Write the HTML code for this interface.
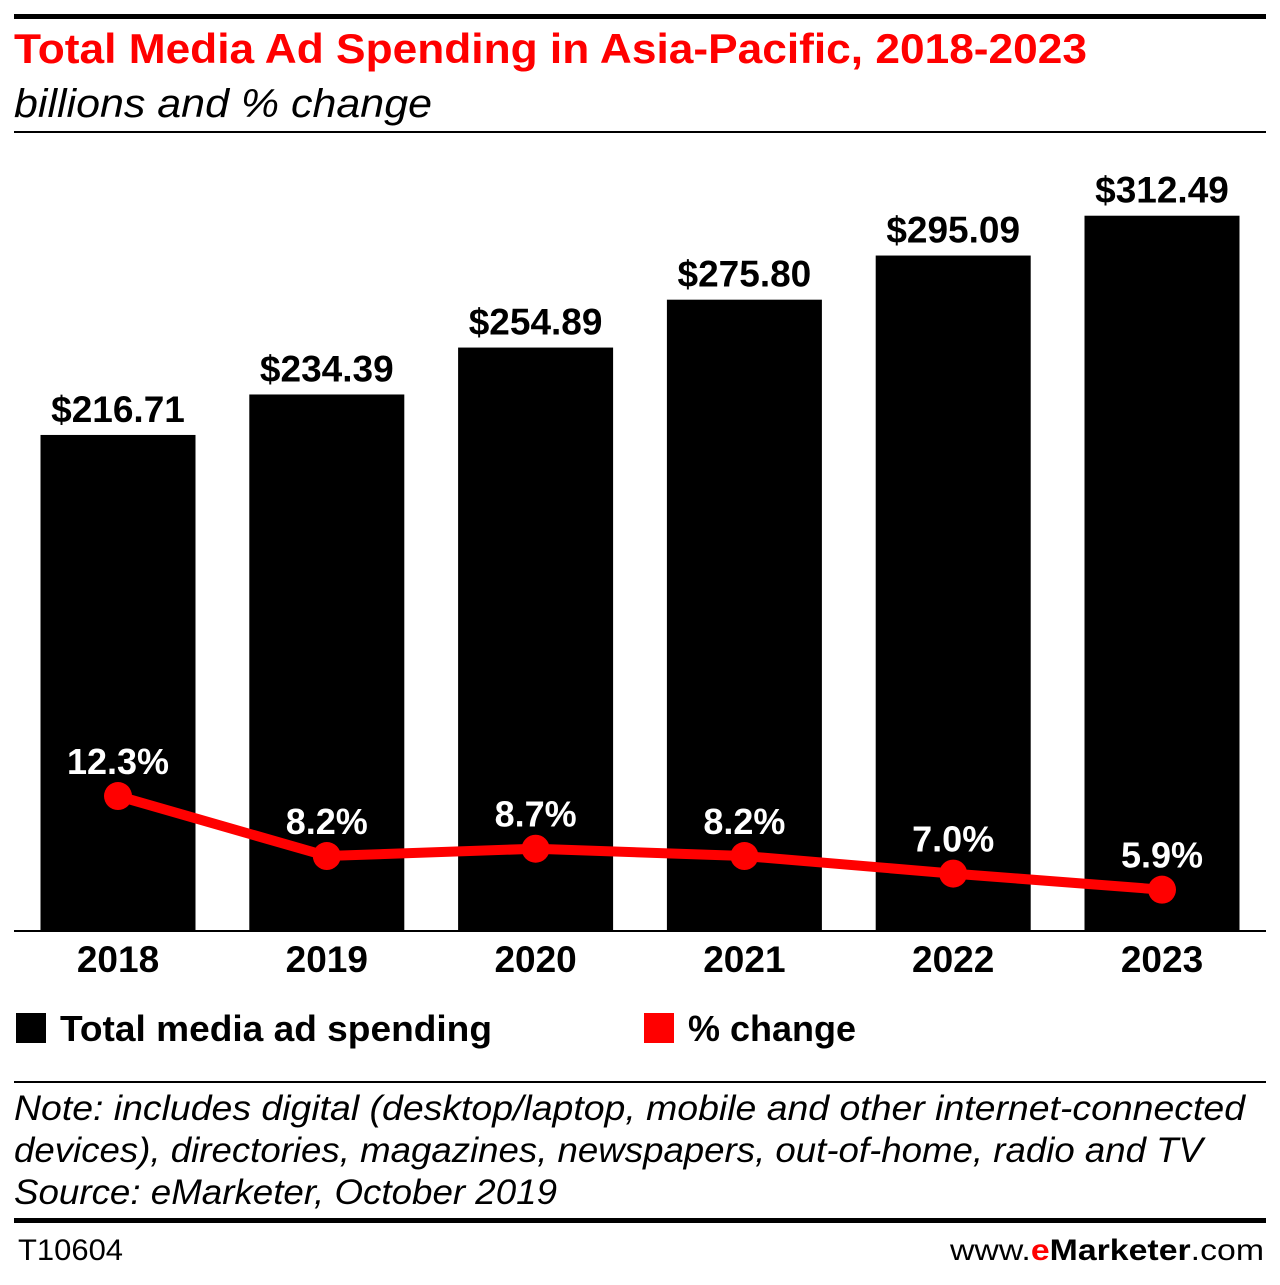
<!DOCTYPE html>
<html><head><meta charset="utf-8"><style>
html,body{margin:0;padding:0;background:#fff;width:1280px;height:1285px;overflow:hidden;font-family:"Liberation Sans","DejaVu Sans",sans-serif}
</style></head><body>
<svg width="1280" height="1285" xmlns="http://www.w3.org/2000/svg">
<rect x="14" y="14" width="1252" height="5" fill="#000"/>
<text x="14" y="63" font-size="42" font-weight="bold" fill="#f00" textLength="1073" lengthAdjust="spacingAndGlyphs">Total Media Ad Spending in Asia-Pacific, 2018-2023</text>
<text x="14" y="117" font-size="40" font-style="italic" fill="#000" textLength="418" lengthAdjust="spacingAndGlyphs">billions and % change</text>
<rect x="14" y="131" width="1252" height="2" fill="#000"/>
<g id="bars"></g>
<g id="line"></g>
<rect x="14" y="930" width="1252" height="2" fill="#000"/>
<g id="xlabels"></g>
<rect x="16" y="1013" width="30" height="30" fill="#000"/>
<text x="60" y="1041" font-size="36" font-weight="bold" textLength="432" lengthAdjust="spacingAndGlyphs">Total media ad spending</text>
<rect x="644" y="1013" width="30" height="30" fill="#f00"/>
<text x="688" y="1041" font-size="36" font-weight="bold" textLength="168" lengthAdjust="spacingAndGlyphs">% change</text>
<rect x="14" y="1081" width="1252" height="2" fill="#000"/>
<text x="14" y="1120" font-size="35" font-style="italic" textLength="1231" lengthAdjust="spacingAndGlyphs">Note: includes digital (desktop/laptop, mobile and other internet-connected</text>
<text x="14" y="1162" font-size="35" font-style="italic" textLength="1189" lengthAdjust="spacingAndGlyphs">devices), directories, magazines, newspapers, out-of-home, radio and TV</text>
<text x="14" y="1204" font-size="35" font-style="italic" textLength="543" lengthAdjust="spacingAndGlyphs">Source: eMarketer, October 2019</text>
<rect x="14" y="1218" width="1252" height="5" fill="#000"/>
<text x="18" y="1260" font-size="30" textLength="105" lengthAdjust="spacingAndGlyphs">T10604</text>
<text x="950" y="1260" font-size="30" textLength="314" lengthAdjust="spacingAndGlyphs">www.<tspan fill="#f00" font-weight="bold">e</tspan><tspan font-weight="bold">Marketer</tspan>.com</text>
</svg>
<script>
const categories=["2018","2019","2020","2021","2022","2023"];
const spending=[216.71,234.39,254.89,275.80,295.09,312.49];
const pctChange=[12.3,8.2,8.7,8.2,7.0,5.9];
const NS="http://www.w3.org/2000/svg";
function xC(i){return 118+i*208.8;}
function yB(v){return 931-v*2.289;}
function yP(v){return 976-v*14.63;}
function mk(t,a,p,txt){const e=document.createElementNS(NS,t);for(const k in a)e.setAttribute(k,a[k]);if(txt!=null)e.textContent=txt;p.appendChild(e);return e;}
const bars=document.getElementById('bars'),line=document.getElementById('line'),xl=document.getElementById('xlabels');
categories.forEach((c,i)=>{
 const r=mk('rect',{x:xC(i)-77.5,y:yB(spending[i]),width:155,height:931-yB(spending[i]),fill:'#000'},bars);
 
 
 const t=mk('text',{x:xC(i),y:yB(spending[i])-13,'font-size':37,'font-weight':'bold','text-anchor':'middle'},bars,'$'+spending[i].toFixed(2));
 
 
 const l=mk('text',{x:xC(i),y:972,'font-size':37,'font-weight':'bold','text-anchor':'middle'},xl,c);
 
 
});
const pl=mk('polyline',{points:pctChange.map((v,i)=>xC(i)+','+yP(v)).join(' '),fill:'none',stroke:'#f00','stroke-width':10},line);


pctChange.forEach((v,i)=>{
 const c=mk('circle',{cx:xC(i),cy:yP(v),r:14,fill:'#f00'},line);
 
 
 const t=mk('text',{x:xC(i),y:yP(v)-22,'font-size':36,'font-weight':'bold','text-anchor':'middle',fill:'#fff'},line,v.toFixed(1)+'%');
 
 
});
</script>
</body></html>
